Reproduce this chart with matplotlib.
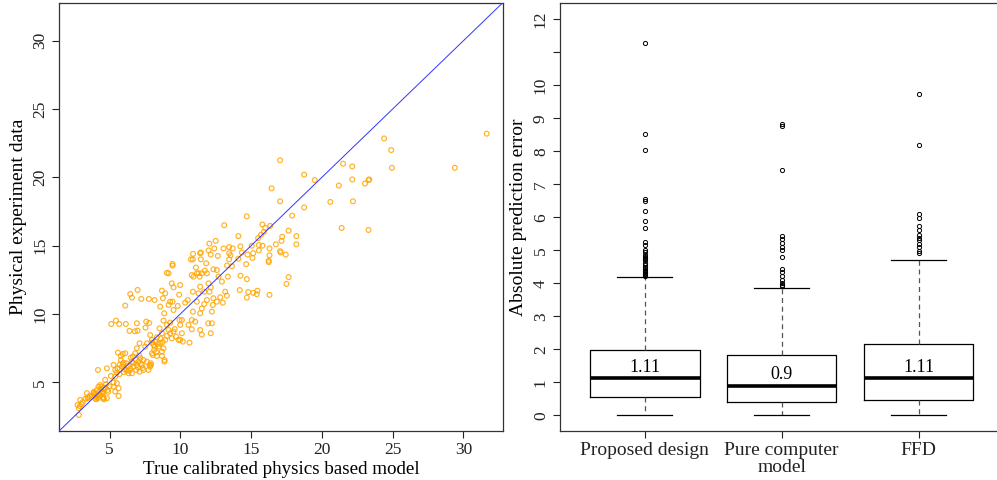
import matplotlib
matplotlib.use("Agg")
import matplotlib.pyplot as plt

plt.rcParams["font.family"] = ["Liberation Serif", "DejaVu Serif"]

# ── Left panel: (true calibrated model, physical experiment) ────────────────
low_pts = [
    (2.83, 2.61), (2.74, 3.34), (2.93, 3.71), (3.02, 3.41), (2.83, 3.10),
    (3.40, 4.20), (3.45, 3.83), (3.59, 4.00), (3.87, 4.24), (3.99, 3.95),
    (4.10, 4.44), (4.22, 4.68), (4.34, 4.80), (4.46, 4.32), (4.58, 3.83),
    (4.81, 3.83), (4.69, 5.17), (4.86, 4.44), (4.18, 5.90), (4.81, 6.02),
    (4.53, 4.20), (4.34, 4.07), (3.92, 4.15), (4.06, 3.76), (4.29, 4.32),
    (4.58, 4.56), (4.46, 4.68), (4.10, 3.95), (5.28, 4.68), (5.40, 4.32),
    (5.64, 4.56), (5.64, 4.00), (5.52, 4.93), (5.28, 4.98), (5.09, 5.46),
    (5.40, 5.41), (3.90, 4.30), (4.00, 4.10), (4.20, 4.00), (4.40, 4.50),
    (4.50, 4.20), (4.70, 4.60), (4.90, 4.30), (4.55, 3.90), (4.20, 3.85),
    (3.75, 3.95), (3.50, 3.90), (3.30, 3.80), (4.00, 3.80), (4.60, 3.75),
    (5.00, 4.70), (4.75, 4.85), (2.90, 3.25), (3.10, 3.55),
]

mid_low_pts = [
    (5.28, 6.27), (5.40, 5.90), (5.56, 6.02), (5.71, 6.27), (5.87, 6.15),
    (6.04, 5.95), (6.18, 6.39), (6.34, 5.66), (6.46, 6.02), (6.58, 6.51),
    (6.65, 6.88), (6.81, 7.12), (6.93, 6.27), (7.05, 6.51), (7.17, 6.76),
    (7.28, 6.27), (7.40, 5.90), (7.12, 5.78), (6.88, 5.90), (6.69, 6.15),
    (6.58, 5.66), (6.22, 5.85), (5.99, 6.44), (5.80, 6.63), (5.59, 7.17),
    (5.94, 7.07), (7.40, 6.63), (7.64, 6.51), (7.75, 5.90), (7.87, 6.15),
    (7.92, 6.27), (7.12, 7.85), (6.93, 7.49), (7.52, 7.61), (7.64, 7.85),
    (6.11, 7.12), (5.80, 6.93), (5.50, 5.70), (5.70, 5.60), (6.00, 5.75),
    (6.30, 6.20), (6.70, 6.40), (7.00, 6.10), (7.20, 6.35), (7.35, 6.05),
    (6.85, 6.65), (6.50, 6.80), (7.10, 6.95), (5.95, 6.30), (6.40, 5.85),
]

above_low_pts = [
    (5.12, 9.27), (5.45, 9.51), (5.68, 9.27), (6.15, 9.27), (6.41, 8.76),
    (6.11, 10.61), (6.46, 11.46), (6.58, 11.20), (6.98, 11.76), (6.79, 8.73),
    (6.93, 9.32), (7.24, 11.10), (7.54, 9.00), (7.59, 9.44), (7.80, 9.34),
    (7.78, 11.10), (8.18, 11.02), (6.98, 8.78),
]

mid_pts = [
    (7.87, 8.46), (7.99, 8.10), (8.11, 7.73), (8.15, 7.37), (8.06, 7.00),
    (8.23, 7.98), (8.34, 8.29), (8.46, 7.61), (8.58, 7.85), (8.70, 7.24),
    (8.81, 7.49), (8.93, 8.10), (9.05, 8.39), (8.53, 8.95), (8.70, 8.59),
    (8.81, 9.51), (9.05, 9.20), (9.17, 8.83), (9.28, 8.59), (9.40, 8.22),
    (9.52, 8.71), (9.71, 8.34), (9.87, 8.10), (9.99, 8.10), (10.11, 8.59),
    (10.18, 7.98), (10.65, 7.90), (9.99, 9.20), (10.11, 9.56), (9.94, 9.56),
    (9.28, 9.37), (8.88, 6.63), (8.88, 6.51), (8.70, 6.93), (8.34, 6.93),
    (7.99, 7.12), (7.92, 6.39), (7.83, 6.27), (8.20, 7.60), (8.40, 7.80),
    (8.00, 7.90), (8.60, 8.20), (8.30, 7.20), (8.75, 7.95), (9.60, 8.90),
]

upper_mid_pts = [
    (8.58, 10.54), (8.86, 10.05), (8.77, 11.15), (8.93, 11.51), (8.70, 11.71),
    (9.05, 13.02), (9.17, 12.98), (9.45, 13.66), (9.45, 13.54), (9.40, 12.24),
    (9.52, 11.95), (9.45, 10.90), (9.52, 10.29), (9.92, 11.41), (9.99, 12.12),
    (9.17, 10.66), (9.28, 10.90), (9.82, 10.59), (10.34, 10.83), (10.53, 11.02),
    (10.89, 11.63), (10.89, 10.17), (10.81, 9.56), (11.05, 9.44), (11.17, 10.90),
    (11.29, 11.51), (11.40, 10.05), (11.52, 10.41), (11.69, 10.73), (10.81, 12.85),
    (10.93, 12.73), (11.17, 12.98), (11.36, 12.73), (11.52, 12.98), (10.89, 14.00),
    (11.29, 12.98), (11.73, 13.17), (11.83, 13.71), (11.88, 12.98), (11.99, 12.24),
    (12.15, 11.95), (12.06, 11.63), (12.34, 11.15), (12.30, 10.66), (12.58, 10.90),
    (12.82, 11.22), (13.00, 10.83), (13.17, 11.63), (13.29, 11.34), (12.70, 12.73),
    (12.94, 12.37), (13.36, 12.73), (12.34, 13.27), (12.58, 13.22), (12.23, 9.32),
    (12.15, 8.59), (11.97, 9.32), (11.40, 8.83), (11.52, 8.49), (10.81, 8.88),
    (10.58, 9.20), (11.40, 12.00), (11.69, 11.63), (11.88, 11.02), (12.23, 10.17),
]

high_pts = [
    (31.65, 23.20), (29.40, 20.70), (24.40, 22.85), (24.90, 22.00), (24.95, 20.70),
    (21.50, 21.00), (22.15, 20.80), (22.15, 19.85), (23.35, 19.85), (23.30, 19.80),
    (23.05, 19.55), (21.20, 19.40), (20.60, 18.20), (22.20, 18.25), (21.40, 16.30),
    (23.30, 16.15), (19.50, 19.80), (18.75, 20.20), (18.75, 17.80), (17.05, 21.25),
    (17.05, 18.25), (16.45, 19.20), (17.90, 17.20), (14.70, 17.15), (15.80, 16.55),
    (16.35, 16.45), (17.65, 16.10), (18.20, 15.70), (18.20, 15.10), (17.20, 15.65),
    (17.15, 15.35), (16.75, 15.10), (17.05, 14.60), (17.10, 14.50), (17.45, 14.35),
    (17.65, 12.70), (17.50, 12.20), (16.30, 14.30), (16.30, 14.80), (16.25, 13.90),
    (16.25, 13.80), (16.30, 11.40), (15.70, 15.80), (15.90, 16.00), (16.00, 16.30),
    (15.50, 15.55), (15.55, 15.05), (15.80, 15.00), (15.55, 14.65), (15.05, 15.00),
    (15.15, 14.45), (15.10, 14.10), (14.75, 14.35), (14.65, 13.65), (14.70, 12.55),
    (14.25, 12.80), (14.20, 11.75), (14.70, 11.20), (14.80, 11.60), (15.15, 11.55),
    (15.40, 11.45), (15.45, 11.70), (14.10, 15.70), (14.25, 14.95), (14.10, 14.05),
    (14.35, 14.50), (13.70, 14.80), (13.45, 14.90), (13.45, 14.45), (13.55, 14.30),
    (13.45, 14.00), (13.30, 13.55), (13.65, 13.50), (13.05, 14.80), (13.10, 16.50),
    (12.50, 15.35), (12.05, 15.15), (12.40, 14.80), (12.15, 14.35), (12.00, 14.65),
    (12.65, 14.25), (11.40, 14.45), (11.45, 14.50), (10.90, 14.40), (10.75, 14.00),
    (11.10, 13.40), (11.45, 14.00),
]

# ── Right panel: absolute prediction error boxplots ─────────────────────────
groups = ["Proposed design", "Pure computer\nmodel", "FFD"]
median_txt = ["1.11", "0.9", "1.11"]
medians = [1.12, 0.90, 1.12]
q1 = [0.56, 0.41, 0.47]
q3 = [1.99, 1.82, 2.17]
whis_lo = [0.0, 0.0, 0.0]
whis_hi = [4.18, 3.84, 4.70]
fliers_pd = [11.29, 8.53, 8.04, 6.55, 6.50, 6.19, 5.89, 5.68, 5.24, 5.17, 5.00,
             4.94, 4.85, 4.80, 4.77, 4.74, 4.70, 4.62, 4.55, 4.50, 4.45, 4.40,
             4.37, 4.33, 4.30, 4.27, 4.24, 4.21]
fliers_pc = [8.83, 8.77, 7.43, 5.43, 5.35, 5.22, 5.10, 5.02, 4.78, 4.42, 4.34,
             4.23, 4.11, 4.01, 3.96, 3.93]
fliers_ffd = [9.74, 8.20, 6.11, 5.99, 5.74, 5.60, 5.47, 5.36, 5.30, 5.19, 5.10,
              4.98, 4.92]

fig = plt.figure(figsize=(9.97, 4.8), dpi=100)
ax1 = fig.add_axes([0.0595, 0.102, 0.4447, 0.891])
ax2 = fig.add_axes([0.5617, 0.102, 0.4447, 0.891])

for ax in (ax1, ax2):
    ax.tick_params(direction="out", length=5, width=0.8, labelsize=12.5,
                   pad=3, colors="#222222")
    for sp in ax.spines.values():
        sp.set_linewidth(0.9)
        sp.set_color("#333333")

# ── Left: scatter ───────────────────────────────────────────────────────────
pts = low_pts + mid_low_pts + above_low_pts + mid_pts + upper_mid_pts + high_pts
xs = [p[0] for p in pts]
ys = [p[1] for p in pts]
ax1.scatter(xs, ys, s=12, facecolors="none", edgecolors="#FFA500",
            linewidths=0.85, alpha=0.85, zorder=2)
ax1.axline((0, 0), slope=1, color="#3333FF", lw=0.7, zorder=3)
ax1.set_xlim(1.45, 32.78)
ax1.set_ylim(1.43, 32.74)
ax1.set_xticks([5, 10, 15, 20, 25, 30])
ax1.set_yticks([5, 10, 15, 20, 25, 30])
ax1.set_yticklabels(["5", "10", "15", "20", "25", "30"], rotation=90, va="center")
ax1.set_xlabel("True calibrated physics based model", fontsize=13.7, labelpad=2)
ax1.set_ylabel("Physical experiment data", fontsize=14, labelpad=4)

# ── Right: boxplots ─────────────────────────────────────────────────────────
fl = [fliers_pd, fliers_pc, fliers_ffd]
stats = [dict(med=medians[i], q1=q1[i], q3=q3[i], whislo=whis_lo[i],
              whishi=whis_hi[i], fliers=fl[i]) for i in range(3)]
ax2.bxp(stats, positions=[1, 2, 3], widths=0.8, capwidths=0.4,
        boxprops=dict(color="black", lw=0.9),
        medianprops=dict(color="black", lw=2.6),
        whiskerprops=dict(color="#555555", lw=0.9, linestyle=(0, (4, 3))),
        capprops=dict(color="black", lw=0.9),
        flierprops=dict(marker="o", markerfacecolor="none", markeredgecolor="black",
                        markersize=3.0, markeredgewidth=0.7))
for i in range(3):
    ax2.text(i + 1, medians[i] + 0.32, median_txt[i], ha="center", va="center",
             fontsize=13)
ax2.set_xlim(0.38, 3.62)
ax2.set_ylim(-0.48, 12.48)
ax2.set_xticks([1, 2, 3])
ax2.set_xticklabels(groups, fontsize=14, linespacing=0.95)
yt = list(range(13))
ax2.set_yticks(yt)
ax2.set_yticklabels([str(v) if v != 11 else "" for v in yt], rotation=90, va="center")
ax2.set_ylabel("Absolute prediction error", fontsize=14, labelpad=4)

fig.savefig("out.png", dpi=100)
